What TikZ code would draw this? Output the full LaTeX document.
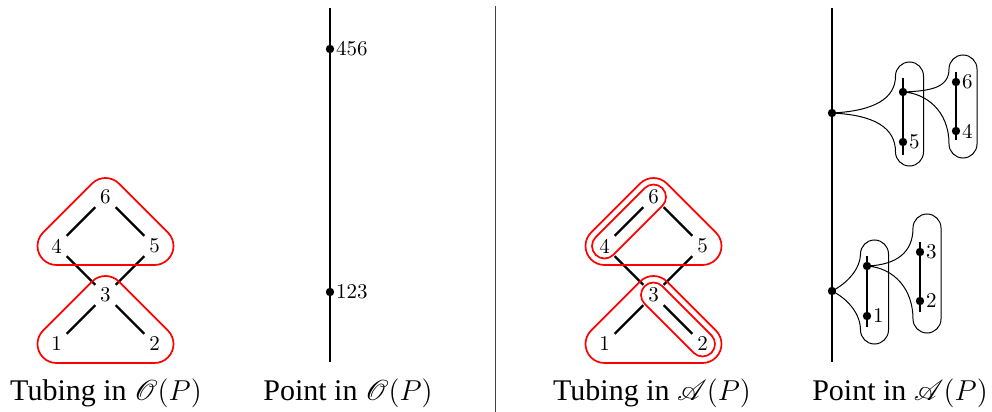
\documentclass[tikz,border=0pt]{standalone}
\usepackage{fontspec}
\usepackage{mathrsfs}
\newfontfamily\capfont{Liberation Serif}
\begin{document}
\begin{tikzpicture}[x=0.5pt,y=-0.5pt,
  pnode/.style={circle,minimum size=14pt,inner sep=0pt,font=\fontsize{10.5}{12}\selectfont},
  pedge/.style={line width=1.1pt},
  tube/.style={draw=red,line width=0.85pt},
  pline/.style={line width=1pt},
  fun/.style={line width=0.5pt},
  dot/.style={circle,fill=black,minimum size=4.2pt,inner sep=0pt},
  lab/.style={font=\fontsize{10.5}{12}\selectfont,inner sep=0.6pt},
  captext/.style={anchor=base,font=\capfont\fontsize{15}{18}\selectfont},
  sep/.style={line width=0.5pt,draw=black!75}]
\useasboundingbox (0,0) rectangle (992,412);

% ---------- Tubing in O(P) ----------
\node[pnode] (a6) at (105.5,197) {6};
\node[pnode] (a4) at (56.5,246) {4};
\node[pnode] (a5) at (154.5,246) {5};
\node[pnode] (a3) at (105.5,295) {3};
\node[pnode] (a1) at (56.5,344) {1};
\node[pnode] (a2) at (154.5,344) {2};
\draw[pedge] (a6) -- (a4);
\draw[pedge] (a6) -- (a5);
\draw[pedge] (a4) -- (a3);
\draw[pedge] (a5) -- (a3);
\draw[pedge] (a3) -- (a1);
\draw[pedge] (a3) -- (a2);
\draw[tube] ([shift={(225:19)}]a6.center) arc[start angle=225,end angle=315,radius=19]
  -- ([shift={(315:19)}]a5.center) arc[start angle=-45,end angle=90,radius=19]
  -- ([shift={(90:19)}]a4.center) arc[start angle=90,end angle=225,radius=19] -- cycle;
\draw[tube] ([shift={(225:19)}]a3.center) arc[start angle=225,end angle=315,radius=19]
  -- ([shift={(315:19)}]a2.center) arc[start angle=-45,end angle=90,radius=19]
  -- ([shift={(90:19)}]a1.center) arc[start angle=90,end angle=225,radius=19] -- cycle;
\node[captext] (c1) at (106,400) {Tubing in $\mathscr{O}(P)$};

% ---------- Point in O(P) ----------
\coordinate (ptop) at (330,8);
\coordinate (pbot) at (330,362);
\draw[pline] (ptop) -- (pbot);
\node[dot,label={[lab]right:456}] (p456) at (330,49) {};
\node[dot,label={[lab]right:123}] (p123) at (330,292) {};
\node[captext] (c2) at (348,400) {Point in $\mathscr{O}(P)$};

% ---------- separator ----------
\coordinate (stop) at (495,6);
\coordinate (sbot) at (495,412);
\draw[sep] (stop) -- (sbot);

% ---------- Tubing in A(P) ----------
\node[pnode] (b6) at (653.5,197) {6};
\node[pnode] (b4) at (604.5,246) {4};
\node[pnode] (b5) at (702.5,246) {5};
\node[pnode] (b3) at (653.5,295) {3};
\node[pnode] (b1) at (604.5,344) {1};
\node[pnode] (b2) at (702.5,344) {2};
\draw[pedge] (b6) -- (b4);
\draw[pedge] (b6) -- (b5);
\draw[pedge] (b4) -- (b3);
\draw[pedge] (b5) -- (b3);
\draw[pedge] (b3) -- (b1);
\draw[pedge] (b3) -- (b2);
\draw[tube] ([shift={(225:19)}]b6.center) arc[start angle=225,end angle=315,radius=19]
  -- ([shift={(315:19)}]b5.center) arc[start angle=-45,end angle=90,radius=19]
  -- ([shift={(90:19)}]b4.center) arc[start angle=90,end angle=225,radius=19] -- cycle;
\draw[tube] ([shift={(225:19)}]b3.center) arc[start angle=225,end angle=315,radius=19]
  -- ([shift={(315:19)}]b2.center) arc[start angle=-45,end angle=90,radius=19]
  -- ([shift={(90:19)}]b1.center) arc[start angle=90,end angle=225,radius=19] -- cycle;
\draw[tube] ([shift={(225:12.5)}]b6.center) arc[start angle=225,end angle=405,radius=12.5]
  -- ([shift={(45:12.5)}]b4.center) arc[start angle=45,end angle=225,radius=12.5] -- cycle;
\draw[tube] ([shift={(135:12.5)}]b3.center) arc[start angle=135,end angle=315,radius=12.5]
  -- ([shift={(315:12.5)}]b2.center) arc[start angle=-45,end angle=135,radius=12.5] -- cycle;
\node[captext] (c3) at (652,400) {Tubing in $\mathscr{A}(P)$};

% ---------- Point in A(P) ----------
\coordinate (qtop) at (832,8);
\coordinate (qbot) at (832,362);
\coordinate (q1) at (832,113);
\coordinate (q2) at (832,291);
\coordinate (u1) at (903,92);
\coordinate (u2) at (903,142);
\coordinate (w1) at (956,82);
\coordinate (w2) at (956,131);
\coordinate (v1) at (867,266);
\coordinate (v2) at (867,316);
\coordinate (x1) at (920,252);
\coordinate (x2) at (920,301);
% funnels
\draw[fun] (q1) .. controls (875,111) and (895.5,98) .. (895.5,76)
  arc[start angle=180,end angle=360,radius=14] -- (923.5,152)
  arc[start angle=0,end angle=180,radius=14] .. controls (895.5,128) and (875,115) .. (q1);
\draw[fun] (u1) .. controls (930,91) and (949,88) .. (949,69)
  arc[start angle=180,end angle=360,radius=14] -- (977,144)
  arc[start angle=0,end angle=180,radius=14] .. controls (949,110) and (925,93) .. (u1);
\draw[fun] (q2) .. controls (848,283) and (860.5,268) .. (860.5,254)
  arc[start angle=180,end angle=360,radius=14] -- (888.5,330)
  arc[start angle=0,end angle=180,radius=14] .. controls (860.5,314) and (848,299) .. (q2);
\draw[fun] (v1) .. controls (897,265) and (913,252) .. (913,228)
  arc[start angle=180,end angle=360,radius=14] -- (941,319)
  arc[start angle=0,end angle=180,radius=14] .. controls (913,290) and (895,268) .. (v1);
% inner lines
\coordinate (ut) at (903,78);  \coordinate (ub) at (903,155);
\coordinate (wt) at (956,72);  \coordinate (wb) at (956,140);
\coordinate (vt) at (867,256); \coordinate (vb) at (867,327);
\coordinate (xt) at (920,242); \coordinate (xb) at (920,312);
\draw[pline] (ut) -- (ub);
\draw[pline] (wt) -- (wb);
\draw[pline] (vt) -- (vb);
\draw[pline] (xt) -- (xb);
\draw[pline] (qtop) -- (qbot);
% dots
\node[dot] (dq1) at (q1) {};
\node[dot] (dq2) at (q2) {};
\node[dot] (du1) at (u1) {};
\node[dot,label={[lab]right:5}] (du2) at (u2) {};
\node[dot,label={[lab]right:6}] (dw1) at (w1) {};
\node[dot,label={[lab]right:4}] (dw2) at (w2) {};
\node[dot] (dv1) at (v1) {};
\node[dot,label={[lab]right:1}] (dv2) at (v2) {};
\node[dot,label={[lab]right:3}] (dx1) at (x1) {};
\node[dot,label={[lab]right:2}] (dx2) at (x2) {};
\node[captext] (c4) at (900,400) {Point in $\mathscr{A}(P)$};
\end{tikzpicture}
\end{document}
